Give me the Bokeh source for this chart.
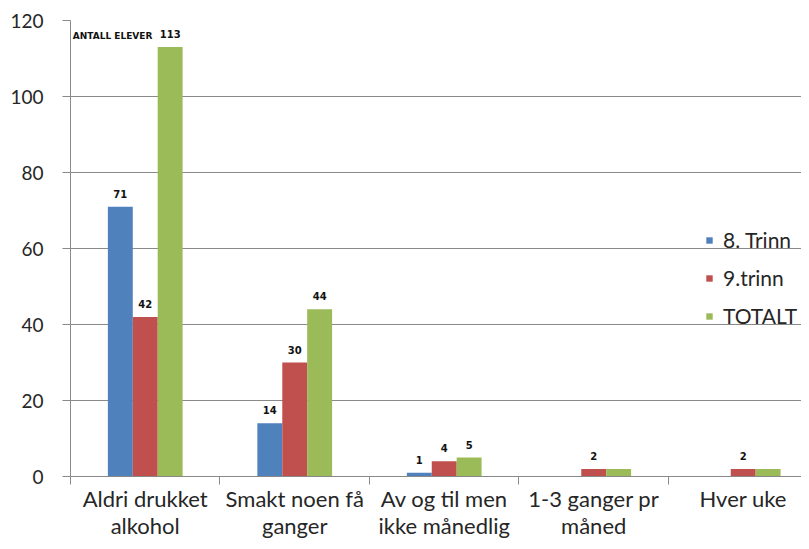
import numpy as np
from bokeh.plotting import figure
from bokeh.models import (ColumnDataSource, FixedTicker, Range1d, Legend,
                          LegendItem, Label)
from bokeh.core.properties import value
from bokeh.embed import file_html
from bokeh.resources import INLINE

# ---- data ----
categories = ["Aldri drukket\nalkohol", "Smakt noen få\nganger",
              "Av og til men\nikke månedlig", "1-3 ganger pr\nmåned", "Hver uke"]
series_names = ["8. Trinn", "9.trinn", "TOTALT"]
trinn8 = [71, 14, 1, 0, 0]
trinn9 = [42, 30, 4, 2, 2]
totalt = [113, 44, 5, 2, 2]
labels8 = ["71", "14", "1", "", ""]
labels9 = ["42", "30", "4", "2", "2"]
labels_tot = ["113", "44", "5", "", ""]
y_ticks = [0, 20, 40, 60, 80, 100, 120]
annotation = "ANTALL ELEVER"

colors = ["#4F81BD", "#C0504D", "#9BBB59"]
FONT = "Lato"
TXT = "#262626"
GRID = "#8a8a8a"

n = len(categories)
centers = np.arange(n) + 0.5
bar_w = 1 / 6
offsets = [-bar_w, 0.0, bar_w]

p = figure(width=801, height=541, output_backend="svg", toolbar_location=None,
           x_range=Range1d(0, 4.89), y_range=Range1d(0, 120),
           min_border_left=70, min_border_right=0, min_border_top=20,
           min_border_bottom=40)
p.outline_line_color = None
p.background_fill_color = "white"
p.border_fill_color = "white"

items = []
for vals, labs, col, off, name in zip([trinn8, trinn9, totalt],
                                      [labels8, labels9, labels_tot],
                                      colors, offsets, series_names):
    src = ColumnDataSource(dict(x=centers + off, top=vals, lab=labs))
    r = p.vbar(x="x", top="top", bottom=0, width=bar_w, source=src,
               fill_color=col, line_color=None)
    p.text(x="x", y="top", text="lab", source=src, text_align="center",
           text_baseline="bottom", y_offset=-9, text_font=value("DejaVu Sans"),
           text_font_style="bold", text_font_size="10px", text_color="#111111")
    items.append(LegendItem(label=name, renderers=[r]))

# grid
p.xgrid.visible = False
p.ygrid.ticker = FixedTicker(ticks=y_ticks)
p.ygrid.grid_line_color = GRID
p.ygrid.grid_line_width = 1

# y axis
ya = p.yaxis[0]
ya.ticker = FixedTicker(ticks=y_ticks)
ya.axis_line_color = GRID
ya.major_tick_line_color = GRID
ya.major_tick_out = 8
ya.major_tick_in = 0
ya.minor_tick_line_color = None
ya.major_label_text_font = FONT
ya.major_label_text_font_size = "19px"
ya.major_label_text_color = TXT
ya.major_label_standoff = 19

# x axis
xa = p.xaxis[0]
xa.ticker = FixedTicker(ticks=list(centers), minor_ticks=list(range(n + 1)))
xa.major_label_overrides = {float(c): lab for c, lab in zip(centers, categories)}
xa.axis_line_color = GRID
xa.major_tick_line_color = None
xa.major_tick_out = 0
xa.minor_tick_line_color = GRID
xa.minor_tick_out = 8
xa.minor_tick_in = 0
xa.major_label_text_font = FONT
xa.major_label_text_font_size = "22px"
xa.major_label_text_line_height = 1.0
xa.major_label_text_color = TXT
xa.major_label_standoff = 0

legend = Legend(items=items, location=(635, 148), orientation="vertical",
                glyph_width=8, glyph_height=8, label_standoff=10,
                label_height=20, spacing=13, padding=0, margin=0,
                border_line_color=None, background_fill_alpha=0,
                label_text_font=FONT, label_text_font_size="21px",
                label_text_color=TXT)
p.add_layout(legend)

p.add_layout(Label(x=0.015, y=116, text=annotation, text_baseline="middle",
                   text_align="left", text_font="DejaVu Sans",
                   text_font_style="bold", text_font_size="9px",
                   text_color="#111111"))

open("out.html", "w").write(file_html(p, INLINE))
